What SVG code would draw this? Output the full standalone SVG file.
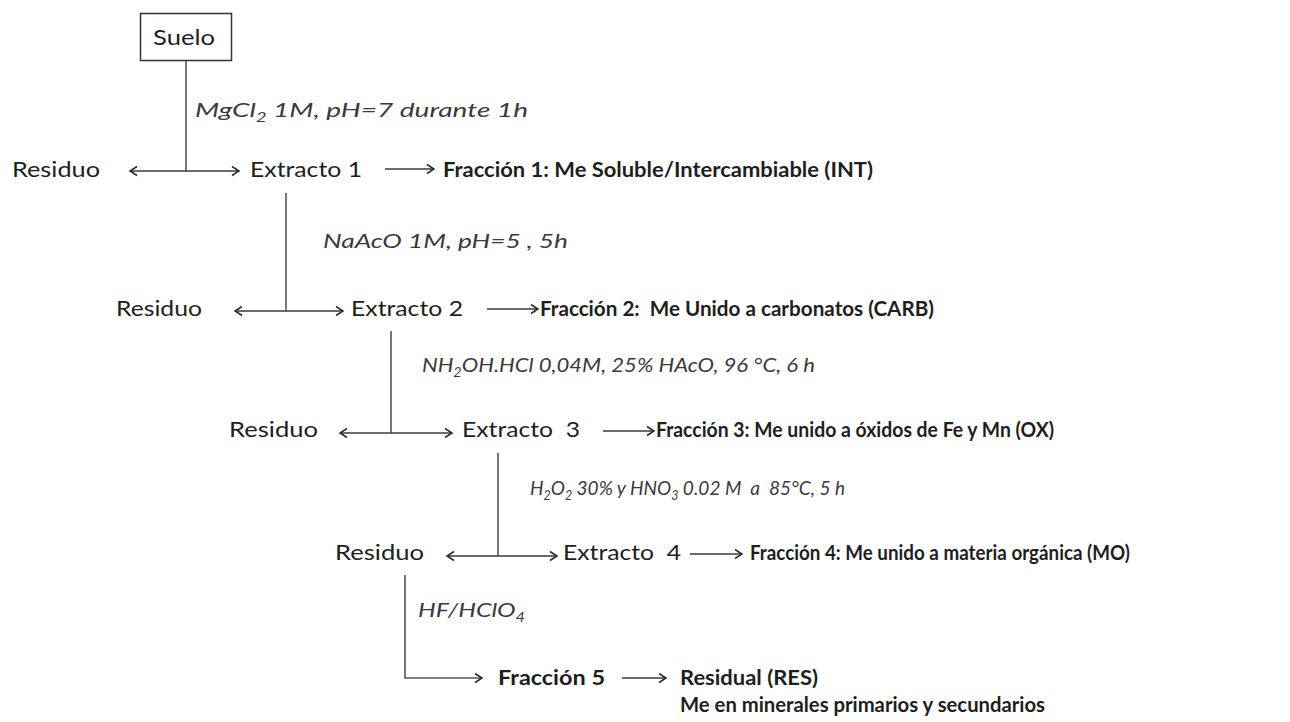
<svg xmlns="http://www.w3.org/2000/svg" width="1290" height="722" viewBox="0 0 1290 722">
<defs>
<style>
text{font-family:Lato,"Open Sans","Liberation Sans",sans-serif;font-size:21px;fill:#1e1e1e;white-space:pre}
.b{font-weight:bold}
.i{font-style:italic;fill:#3a3a3a;font-size:20px}
.sub{font-size:13px}
.ln{stroke:#3a3a3a;stroke-width:1.5;fill:none}
.vl{stroke:#555;stroke-width:1.6;fill:none}
</style>
<marker id="ah" markerUnits="userSpaceOnUse" markerWidth="12" markerHeight="12" refX="9" refY="6" orient="auto-start-reverse">
<path d="M2,1.5 L9,6 L2,10.5" fill="none" stroke="#2a2a2a" stroke-width="1.5"/>
</marker>
</defs>
<rect width="1290" height="722" fill="#fff"/>

<g id="connectors">
<line class="vl" x1="186" y1="61" x2="186" y2="171"/>
<line class="ln" x1="130" y1="171" x2="239" y2="171" marker-start="url(#ah)" marker-end="url(#ah)"/>
<line class="ln" x1="385" y1="169" x2="434" y2="169" marker-end="url(#ah)"/>

<line class="vl" x1="286" y1="193" x2="286" y2="311"/>
<line class="ln" x1="235" y1="311" x2="343" y2="311" marker-start="url(#ah)" marker-end="url(#ah)"/>
<line class="ln" x1="487" y1="309" x2="538" y2="309" marker-end="url(#ah)"/>

<line class="vl" x1="391" y1="331" x2="391" y2="433"/>
<line class="ln" x1="340" y1="433" x2="452" y2="433" marker-start="url(#ah)" marker-end="url(#ah)"/>
<line class="ln" x1="603" y1="431" x2="654" y2="431" marker-end="url(#ah)"/>

<line class="vl" x1="498" y1="453" x2="498" y2="556"/>
<line class="ln" x1="447" y1="556" x2="557" y2="556" marker-start="url(#ah)" marker-end="url(#ah)"/>
<line class="ln" x1="690" y1="554" x2="742" y2="554" marker-end="url(#ah)"/>

<path class="vl" d="M405,575 L405,678 L482,678" marker-end="url(#ah)"/>
<line class="ln" x1="622" y1="678" x2="666" y2="678" marker-end="url(#ah)"/>
</g>

<g id="suelo">
<rect x="140.5" y="13.5" width="91" height="47" fill="#fff" stroke="#333" stroke-width="1.5"/>
<text x="153" y="45" textLength="62" lengthAdjust="spacingAndGlyphs">Suelo</text>
</g>

<g id="label1"><text class="i" x="195" y="117" textLength="333" lengthAdjust="spacingAndGlyphs">MgCl<tspan class="sub" dy="5">2</tspan><tspan dy="-5"> 1M, pH=7 durante 1h</tspan></text></g>
<g id="residuo1"><text x="12" y="177" textLength="88" lengthAdjust="spacingAndGlyphs">Residuo</text></g>
<g id="extracto1"><text x="250" y="177" textLength="112" lengthAdjust="spacingAndGlyphs">Extracto 1</text></g>
<g id="fraccion1"><text class="b" x="443" y="177" textLength="430" lengthAdjust="spacingAndGlyphs">Fracción 1: Me Soluble/Intercambiable (INT)</text></g>

<g id="label2"><text class="i" x="323" y="248" textLength="245" lengthAdjust="spacingAndGlyphs">NaAcO 1M, pH=5 , 5h</text></g>
<g id="residuo2"><text x="116" y="316" textLength="86" lengthAdjust="spacingAndGlyphs">Residuo</text></g>
<g id="extracto2"><text x="351" y="316" textLength="112" lengthAdjust="spacingAndGlyphs">Extracto 2</text></g>
<g id="fraccion2"><text class="b" x="540" y="316" textLength="394" lengthAdjust="spacingAndGlyphs">Fracción 2:  Me Unido a carbonatos (CARB)</text></g>

<g id="label3"><text class="i" x="422" y="372" textLength="393" lengthAdjust="spacingAndGlyphs">NH<tspan class="sub" dy="5">2</tspan><tspan dy="-5">OH.HCl 0,04M, 25% HAcO, 96 °C, 6 h</tspan></text></g>
<g id="residuo3"><text x="229" y="437" textLength="89" lengthAdjust="spacingAndGlyphs">Residuo</text></g>
<g id="extracto3"><text x="462" y="437" textLength="118" lengthAdjust="spacingAndGlyphs">Extracto  3</text></g>
<g id="fraccion3"><text class="b" x="656" y="437" textLength="398" lengthAdjust="spacingAndGlyphs">Fracción 3: Me unido a óxidos de Fe y Mn (OX)</text></g>

<g id="label4"><text class="i" x="530" y="495" textLength="315" lengthAdjust="spacingAndGlyphs">H<tspan class="sub" dy="5">2</tspan><tspan dy="-5">O</tspan><tspan class="sub" dy="5">2</tspan><tspan dy="-5"> 30% y HNO</tspan><tspan class="sub" dy="5">3</tspan><tspan dy="-5"> 0.02 M  a  85°C, 5 h</tspan></text></g>
<g id="residuo4"><text x="335" y="560" textLength="89" lengthAdjust="spacingAndGlyphs">Residuo</text></g>
<g id="extracto4"><text x="563" y="560" textLength="118" lengthAdjust="spacingAndGlyphs">Extracto  4</text></g>
<g id="fraccion4"><text class="b" x="750" y="560" textLength="380" lengthAdjust="spacingAndGlyphs">Fracción 4: Me unido a materia orgánica (MO)</text></g>

<g id="label5"><text class="i" x="418" y="617" textLength="107" lengthAdjust="spacingAndGlyphs">HF/HClO<tspan class="sub" dy="5">4</tspan></text></g>
<g id="fraccion5"><text class="b" x="498" y="685" textLength="107" lengthAdjust="spacingAndGlyphs">Fracción 5</text></g>
<g id="residual"><text class="b" x="680" y="685" textLength="138" lengthAdjust="spacingAndGlyphs">Residual (RES)</text>
<text class="b" x="680" y="712" textLength="365" lengthAdjust="spacingAndGlyphs">Me en minerales primarios y secundarios</text></g>
</svg>
